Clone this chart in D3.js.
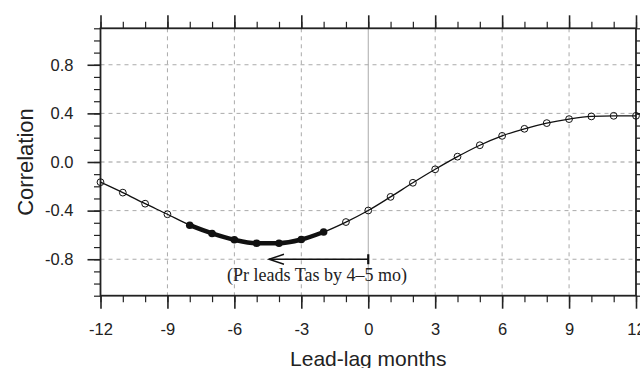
<!DOCTYPE html>
<html>
<head>
<meta charset="utf-8">
<script src="https://d3js.org/d3.v7.min.js"></script>
<style>
  html, body { margin: 0; padding: 0; background: #fff; }
  svg { display: block; }
</style>
</head>
<body>
<div id="chart"></div>
<script>
// Lead-lag correlation between Pr and Tas
const lags = [-12, -11, -10, -9, -8, -7, -6, -5, -4, -3, -2, -1, 0, 1, 2, 3, 4, 5, 6, 7, 8, 9, 10, 11, 12];
const corr = [-0.166, -0.252, -0.343, -0.430, -0.520, -0.588, -0.640, -0.668, -0.668, -0.638, -0.576, -0.494, -0.399,
              -0.287, -0.171, -0.060, 0.044, 0.138, 0.215, 0.273, 0.320, 0.353, 0.375, 0.380, 0.380];
// lags where the correlation is significant (drawn bold)
const sigLags = [-8, -7, -6, -5, -4, -3, -2];

const xTicks = [-12, -9, -6, -3, 0, 3, 6, 9, 12];
const yTicks = [-0.8, -0.4, 0.0, 0.4, 0.8];
const xLabel = "Lead-lag months";
const yLabel = "Correlation";
const note = "(Pr leads Tas by 4\u20135 mo)";
const arrowFrom = 0, arrowTo = -4.45, arrowLevel = -0.8;

const W = 640, H = 368;
const m = { left: 100.5, right: 636, top: 28.3, bottom: 295.7 };

const svg = d3.select("#chart").append("svg").attr("width", W).attr("height", H);

const x = d3.scaleLinear().domain([-12, 12]).range([m.left, m.right]);
const y = d3.scaleLinear().domain([-1.1, 1.1]).range([m.bottom, m.top]);

const font = "'Liberation Sans', Arial, Helvetica, sans-serif";

// grid
const grid = svg.append("g");
grid.selectAll("line.gx").data(xTicks.filter(d => d > -12 && d < 12)).join("line")
  .attr("x1", d => x(d)).attr("x2", d => x(d)).attr("y1", m.top).attr("y2", m.bottom)
  .attr("stroke", "#aaa").attr("stroke-width", 1)
  .attr("stroke-dasharray", d => d === 0 ? null : "4,4");
grid.selectAll("line.gy").data(yTicks).join("line")
  .attr("x1", m.left).attr("x2", m.right).attr("y1", d => y(d)).attr("y2", d => y(d))
  .attr("stroke", d => d === 0 ? "#999" : "#aaa").attr("stroke-width", 1)
  .attr("stroke-dasharray", "4,4");

// axes with outward ticks on every side
const xMinor = d3.range(-12, 13, 1);
const yMinor = d3.range(-11, 12, 1).map(v => v / 10);
const tickCol = "#222";

function addAxis(axisFn, scale, transform, major, minor, labels, pad) {
  const gMinor = svg.append("g").attr("transform", transform)
    .call(axisFn(scale).tickValues(minor).tickSize(6.5).tickFormat(""));
  gMinor.select(".domain").remove();
  gMinor.selectAll("line").attr("stroke", tickCol).attr("stroke-width", 1.2);
  const g = svg.append("g").attr("transform", transform)
    .call(axisFn(scale).tickValues(major).tickSize(13).tickPadding(pad || 12)
      .tickFormat(labels ? labels : ""));
  g.select(".domain").remove();
  g.selectAll("line").attr("stroke", tickCol).attr("stroke-width", 1.6);
  g.selectAll("text").attr("font-family", font).attr("font-size", 16.5).attr("fill", "#222");
  return g;
}
addAxis(d3.axisBottom, x, `translate(0,${m.bottom})`, xTicks, xMinor, d => String(d), 15);
addAxis(d3.axisTop, x, `translate(0,${m.top})`, xTicks, xMinor, null);
addAxis(d3.axisLeft, y, `translate(${m.left},0)`, yTicks, yMinor, d => d.toFixed(1), 14);
addAxis(d3.axisRight, y, `translate(${m.right},0)`, yTicks, yMinor, null);

// frame
svg.append("rect").attr("x", m.left).attr("y", m.top)
  .attr("width", m.right - m.left).attr("height", m.bottom - m.top)
  .attr("fill", "none").attr("stroke", tickCol).attr("stroke-width", 1.8);

// axis titles
svg.append("text").attr("x", (m.left + m.right) / 2).attr("y", 366)
  .attr("text-anchor", "middle").attr("font-family", font).attr("font-size", 21)
  .attr("fill", "#222").text(xLabel);
svg.append("text").attr("transform", `translate(33,${(m.top + m.bottom) / 2}) rotate(-90)`)
  .attr("text-anchor", "middle").attr("font-family", font).attr("font-size", 22)
  .attr("fill", "#222").text(yLabel);

// data
const pts = lags.map((l, i) => ({ lag: l, r: corr[i], sig: sigLags.includes(l) }));
const line = d3.line().x(d => x(d.lag)).y(d => y(d.r)).curve(d3.curveMonotoneX);

svg.append("path").datum(pts).attr("d", line)
  .attr("fill", "none").attr("stroke", "#111").attr("stroke-width", 1.3);
svg.append("path").datum(pts.filter(d => d.sig)).attr("d", line)
  .attr("fill", "none").attr("stroke", "#111").attr("stroke-width", 4.5)
  .attr("stroke-linecap", "round");

svg.selectAll("circle.open").data(pts.filter(d => !d.sig)).join("circle")
  .attr("class", "open")
  .attr("cx", d => x(d.lag)).attr("cy", d => y(d.r)).attr("r", 3.4)
  .attr("fill", "none").attr("stroke", "#111").attr("stroke-width", 1);
svg.selectAll("circle.fill").data(pts.filter(d => d.sig)).join("circle")
  .attr("class", "fill")
  .attr("cx", d => x(d.lag)).attr("cy", d => y(d.r)).attr("r", 3.8)
  .attr("fill", "#111");

// lead arrow and note
const ay = y(arrowLevel), ax0 = x(arrowFrom), ax1 = x(arrowTo);
const ann = svg.append("g").attr("stroke", "#111").attr("stroke-width", 1.4).attr("fill", "none");
ann.append("line").attr("x1", ax0).attr("x2", ax1).attr("y1", ay).attr("y2", ay);
ann.append("line").attr("x1", ax0).attr("x2", ax0).attr("y1", ay - 5).attr("y2", ay + 5).attr("stroke-width", 2.2);
ann.append("path").attr("d", `M${ax1 + 15},${ay - 5} L${ax1},${ay} L${ax1 + 15},${ay + 5}`);
svg.append("text").attr("x", 317).attr("y", 281)
  .attr("text-anchor", "middle").attr("font-family", "'Liberation Serif', 'Times New Roman', serif")
  .attr("font-size", 18).attr("fill", "#222").text(note);
</script>
</body>
</html>
